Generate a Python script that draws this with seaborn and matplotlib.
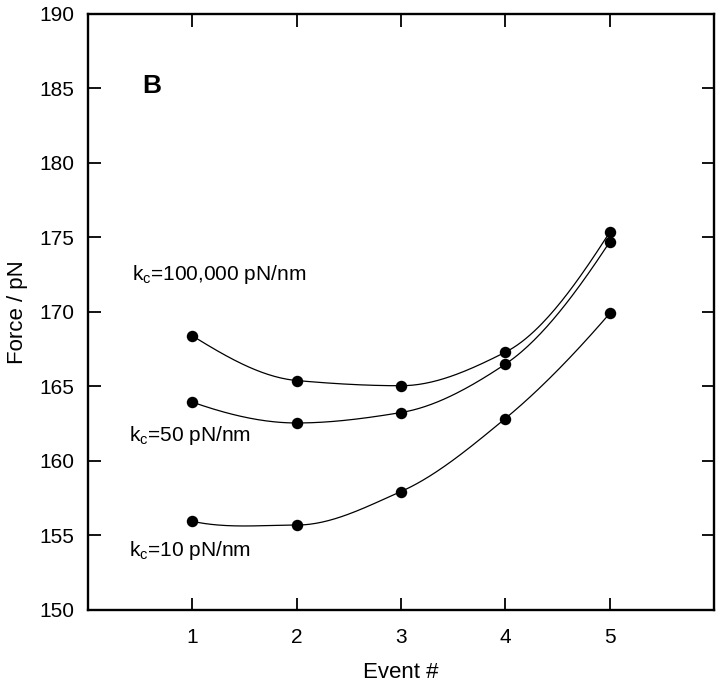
import numpy as np
import pandas as pd
import matplotlib
matplotlib.use("Agg")
import matplotlib.pyplot as plt
import seaborn as sns

# ---- data ----
events = [1, 2, 3, 4, 5]
force_kc100000 = [168.4, 165.4, 165.05, 167.3, 175.35]
force_kc50 = [163.95, 162.55, 163.25, 166.5, 174.7]
force_kc10 = [155.95, 155.7, 157.95, 162.85, 169.9]
series_labels = ["k$_c$=100,000 pN/nm", "k$_c$=50 pN/nm", "k$_c$=10 pN/nm"]
y_ticks = [150, 155, 160, 165, 170, 175, 180, 185, 190]
x_ticks = [1, 2, 3, 4, 5]


def smooth_curve(x, y, n=200):
    # monotone cubic (Fritsch-Carlson), only for drawing the smooth line
    x = np.asarray(x, float)
    y = np.asarray(y, float)
    h = np.diff(x)
    d = np.diff(y) / h
    m = np.zeros_like(y)
    for i in range(1, len(x) - 1):
        if d[i - 1] * d[i] > 0:
            w1 = 2 * h[i] + h[i - 1]
            w2 = h[i] + 2 * h[i - 1]
            m[i] = (w1 + w2) / (w1 / d[i - 1] + w2 / d[i])
    # three-point end slopes
    m[0] = ((2 * h[0] + h[1]) * d[0] - h[0] * d[1]) / (h[0] + h[1])
    if np.sign(m[0]) != np.sign(d[0]):
        m[0] = 0
    m[-1] = ((2 * h[-1] + h[-2]) * d[-1] - h[-1] * d[-2]) / (h[-1] + h[-2])
    if np.sign(m[-1]) != np.sign(d[-1]):
        m[-1] = 0
    xs = np.linspace(x[0], x[-1], n)
    ys = np.empty_like(xs)
    for j, xv in enumerate(xs):
        i = min(np.searchsorted(x, xv, side="right") - 1, len(x) - 2)
        t = (xv - x[i]) / h[i]
        h00 = 2 * t ** 3 - 3 * t ** 2 + 1
        h10 = t ** 3 - 2 * t ** 2 + t
        h01 = -2 * t ** 3 + 3 * t ** 2
        h11 = t ** 3 - t ** 2
        ys[j] = h00 * y[i] + h10 * h[i] * m[i] + h01 * y[i + 1] + h11 * h[i] * m[i + 1]
    return xs, ys


sns.set_style("ticks")
plt.rcParams["font.family"] = ["Liberation Sans", "DejaVu Sans"]
plt.rcParams["mathtext.fontset"] = "custom"
plt.rcParams["mathtext.rm"] = "Liberation Sans"
plt.rcParams["mathtext.it"] = "Liberation Sans"
plt.rcParams["text.color"] = "black"
plt.rcParams["axes.labelcolor"] = "black"
plt.rcParams["xtick.color"] = "black"
plt.rcParams["ytick.color"] = "black"
plt.rcParams["axes.edgecolor"] = "black"

fig = plt.figure(figsize=(7.2, 6.88), dpi=100)
ax = fig.add_axes([0.1222, 0.1134, 0.8695, 0.8663])

for vals, name in zip([force_kc100000, force_kc50, force_kc10], series_labels):
    xs, ys = smooth_curve(events, vals)
    sns.lineplot(x=xs, y=ys, ax=ax, color="black", linewidth=0.9, sort=False)
    sns.scatterplot(x=events, y=vals, ax=ax, color="black", s=68,
                    edgecolor="black", linewidth=0, zorder=3)

# curve labels
ax.text(0.42, 172.5, series_labels[0], fontsize=15, va="center", ha="left")
ax.text(0.39, 161.7, series_labels[1], fontsize=15, va="center", ha="left")
ax.text(0.39, 154.0, series_labels[2], fontsize=15, va="center", ha="left")
ax.text(0.52, 185.15, "B", fontsize=19, fontweight="bold", va="center", ha="left")

ax.set_xlim(0, 6)
ax.set_ylim(150, 190)
ax.set_xticks(x_ticks)
ax.set_yticks(y_ticks)
ax.tick_params(direction="in", length=9, width=1.3, labelsize=15,
               top=True, right=True, pad=10)
ax.tick_params(axis="x", pad=13)
for sp in ax.spines.values():
    sp.set_linewidth(1.7)
    sp.set_visible(True)

ax.set_xlabel("Event #", fontsize=16, labelpad=11)
ax.set_ylabel("Force / pN", fontsize=16, labelpad=8)

fig.savefig("out.png", dpi=100)
